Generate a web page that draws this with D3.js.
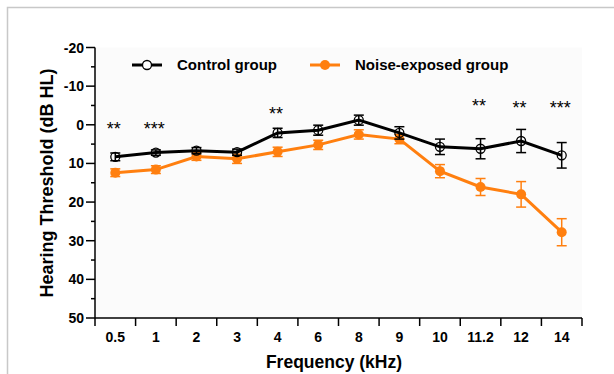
<!DOCTYPE html>
<html>
<head>
<meta charset="utf-8">
<script src="https://cdn.jsdelivr.net/npm/d3@7"></script>
<style>
  body { margin: 0; background: #fff; }
  text { font-family: "Liberation Sans", Arial, sans-serif; }
</style>
</head>
<body>
<svg id="chart" width="614" height="374"></svg>
<script>
// frequencies (kHz) on the x axis
var freqs = ["0.5", "1", "2", "3", "4", "6", "8", "9", "10", "11.2", "12", "14"];
// mean thresholds and error (dB HL)
var controlMean = [8.3, 7.2, 6.7, 7.1, 2.1, 1.4, -1.2, 2.1, 5.7, 6.2, 4.2, 7.9];
var controlErr  = [1.0, 0.7, 0.8, 0.8, 1.2, 1.3, 1.3, 1.6, 2.0, 2.6, 3.0, 3.3];
var noiseMean   = [12.4, 11.6, 8.2, 8.8, 7.0, 5.2, 2.5, 3.7, 12.0, 16.1, 18.0, 27.8];
var noiseErr    = [1.0, 1.0, 1.0, 1.2, 1.2, 1.2, 1.2, 1.2, 1.7, 2.2, 3.3, 3.5];
// significance marks
var sigFreqs = ["0.5", "1", "4", "11.2", "12", "14"];
var sigMarks = ["**", "***", "**", "**", "**", "***"];
var sigLevel = [0, 0, -3.7, -5.9, -5.3, -5.3];
var yTicks = [-20, -10, 0, 10, 20, 30, 40, 50];

var svg = d3.select("#chart");
var orange = "#ff7f0f";

// page frame
svg.append("path")
    .attr("d", "M7.5,374 V7.5 H614")
    .attr("fill", "none")
    .attr("stroke", "#c8c8c8")
    .attr("stroke-width", 1.5);

var x = d3.scaleBand().domain(freqs).range([95, 582]).paddingInner(0).paddingOuter(0);
var y = d3.scaleLinear().domain([-20, 50]).range([47.5, 318]);
var cx = function(f) { return x(f) + x.bandwidth() / 2; };

// faint plot background
svg.append("rect")
    .attr("x", 96).attr("y", y(-20))
    .attr("width", 582 - 96).attr("height", y(50) - y(-20))
    .attr("fill", "#fbfbfb");

// y axis
var yAxis = svg.append("g").attr("transform", "translate(95,0)");
yAxis.append("line")
    .attr("y1", y(-20)).attr("y2", y(50))
    .attr("stroke", "#000").attr("stroke-width", 1.5);
d3.range(-20, 51, 5).forEach(function(v) {
    var major = v % 10 === 0;
    yAxis.append("line")
        .attr("x1", major ? -9 : -4).attr("x2", 0)
        .attr("y1", y(v)).attr("y2", y(v))
        .attr("stroke", "#000").attr("stroke-width", 1.5);
});
yAxis.selectAll("text.tick")
    .data(yTicks)
    .enter().append("text")
    .attr("class", "tick")
    .attr("x", -11)
    .attr("y", function(d) { return y(d); })
    .attr("dy", "0.36em")
    .attr("text-anchor", "end")
    .style("font-size", "14px")
    .style("font-weight", "bold")
    .text(function(d) { return d; });

// x axis
var xAxis = svg.append("g").attr("transform", "translate(0," + y(50) + ")");
xAxis.append("line")
    .attr("x1", 95).attr("x2", 582)
    .attr("stroke", "#000").attr("stroke-width", 1.5);
freqs.concat(["end"]).forEach(function(f, i) {
    var px = i < freqs.length ? x(f) : 582;
    xAxis.append("line")
        .attr("x1", px).attr("x2", px)
        .attr("y1", 0).attr("y2", 8)
        .attr("stroke", "#000").attr("stroke-width", 1.5);
});
xAxis.selectAll("text.tick")
    .data(freqs)
    .enter().append("text")
    .attr("class", "tick")
    .attr("x", cx)
    .attr("y", 19)
    .attr("dy", "0.36em")
    .attr("text-anchor", "middle")
    .style("font-size", "14px")
    .style("font-weight", "bold")
    .text(function(d) { return d; });

// axis titles
svg.append("text")
    .attr("x", 334).attr("y", 368)
    .attr("text-anchor", "middle")
    .style("font-size", "17.5px")
    .style("font-weight", "bold")
    .text("Frequency (kHz)");
svg.append("text")
    .attr("transform", "translate(53," + 183 + ") rotate(-90)")
    .attr("text-anchor", "middle")
    .style("font-size", "18px")
    .style("font-weight", "bold")
    .text("Hearing Threshold (dB HL)");

function drawSeries(mean, err, color, filled) {
    var pts = freqs.map(function(f, i) { return {f: f, m: mean[i], e: err[i]}; });
    var line = d3.line().x(function(d) { return cx(d.f); }).y(function(d) { return y(d.m); });
    var g = svg.append("g");
    g.append("path")
        .datum(pts)
        .attr("d", line)
        .attr("fill", "none")
        .attr("stroke", color)
        .attr("stroke-width", 3);
    var eb = g.selectAll("g.err").data(pts).enter().append("g").attr("class", "err");
    eb.append("line")
        .attr("x1", function(d) { return cx(d.f); }).attr("x2", function(d) { return cx(d.f); })
        .attr("y1", function(d) { return y(d.m - d.e); }).attr("y2", function(d) { return y(d.m + d.e); })
        .attr("stroke", color).attr("stroke-width", 1.5);
    [-1, 1].forEach(function(s) {
        eb.append("line")
            .attr("x1", function(d) { return cx(d.f) - 5; }).attr("x2", function(d) { return cx(d.f) + 5; })
            .attr("y1", function(d) { return y(d.m + s * d.e); }).attr("y2", function(d) { return y(d.m + s * d.e); })
            .attr("stroke", color).attr("stroke-width", 1.5);
    });
    g.selectAll("circle").data(pts).enter().append("circle")
        .attr("cx", function(d) { return cx(d.f); })
        .attr("cy", function(d) { return y(d.m); })
        .attr("r", filled ? 5 : 4.5)
        .attr("fill", filled ? color : "none")
        .attr("stroke", color)
        .attr("stroke-width", filled ? 0 : 1.3);
}

drawSeries(noiseMean, noiseErr, orange, true);
drawSeries(controlMean, controlErr, "#000", false);

// significance asterisks (glyph centre sits ~0.57em above the baseline)
svg.selectAll("text.sig")
    .data(sigFreqs)
    .enter().append("text")
    .attr("class", "sig")
    .attr("x", function(d) { return cx(d) - 1.5; })
    .attr("y", function(d, i) { return y(sigLevel[i]) + 10; })
    .attr("text-anchor", "middle")
    .style("font-size", "18px")
    .text(function(d, i) { return sigMarks[i]; });

// legend
var legend = [
    {label: "Control group", color: "#000", filled: false, x: 132, tx: 177},
    {label: "Noise-exposed group", color: orange, filled: true, x: 310, tx: 355}
];
var lg = svg.selectAll("g.legend").data(legend).enter().append("g").attr("class", "legend");
lg.append("line")
    .attr("x1", function(d) { return d.x; }).attr("x2", function(d) { return d.x + 30; })
    .attr("y1", 65).attr("y2", 65)
    .attr("stroke", function(d) { return d.color; })
    .attr("stroke-width", 3);
lg.append("circle")
    .attr("cx", function(d) { return d.x + 15; }).attr("cy", 65)
    .attr("r", function(d) { return d.filled ? 5 : 4.5; })
    .attr("fill", function(d) { return d.filled ? d.color : "#fff"; })
    .attr("stroke", function(d) { return d.color; })
    .attr("stroke-width", function(d) { return d.filled ? 0 : 1.3; });
lg.append("text")
    .attr("x", function(d) { return d.tx; }).attr("y", 65)
    .attr("dy", "0.36em")
    .style("font-size", "15px")
    .style("font-weight", "bold")
    .text(function(d) { return d.label; });
</script>
</body>
</html>
